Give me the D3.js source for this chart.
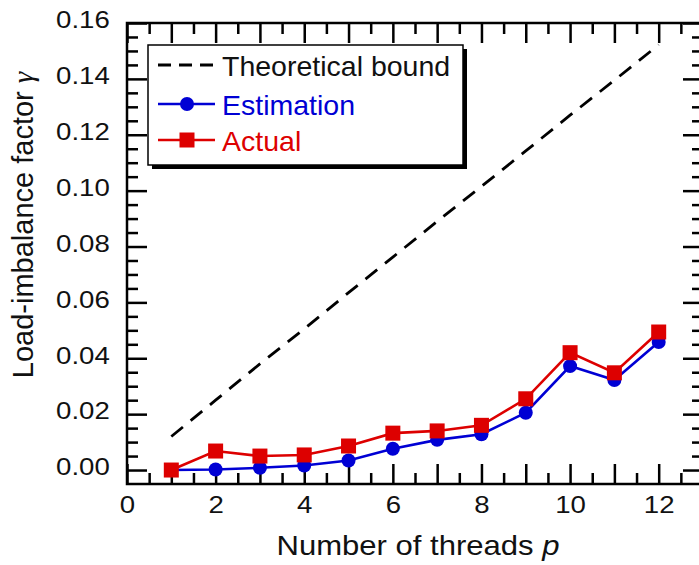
<!DOCTYPE html>
<html>
<head>
<meta charset="utf-8">
<script src="https://cdn.jsdelivr.net/npm/d3@7"></script>
<style>
  body { margin: 0; background: #fff; }
  text { font-family: "Liberation Sans", Arial, sans-serif; fill: #111; }
</style>
</head>
<body>
<svg id="chart" width="699" height="565"></svg>
<script>
// values
const threads = [1, 2, 3, 4, 5, 6, 7, 8, 9, 10, 11, 12]
const estimation = [0.0, 0.0002, 0.0008, 0.0016, 0.0034, 0.0076, 0.0108, 0.0128, 0.0205, 0.0372, 0.0322, 0.0458]
const actual = [0.0, 0.0068, 0.0050, 0.0054, 0.0086, 0.0132, 0.0140, 0.0160, 0.0255, 0.0420, 0.0348, 0.0494]
const bound = [0.0120, 0.0250, 0.0380, 0.0505, 0.0635, 0.0762, 0.0890, 0.1015, 0.1142, 0.1270, 0.1395, 0.1522]
const xMajor = d3.range(0, 14)
const xMinor = d3.range(0.5, 13, 1)
const yMajor = [0, 0.02, 0.04, 0.06, 0.08, 0.10, 0.12, 0.14, 0.16]
const yMinor = d3.range(1, 32).map(i => i * 0.005).filter(v => Math.round(v * 1000) % 20 !== 0)
const legendItems = ['Theoretical bound', 'Estimation', 'Actual']

const blue = '#0000d4', red = '#dd0000'
const stretch = 1.15

const plot = { left: 127, right: 703, top: 23, bottom: 484 }

var svg = d3.select('#chart')

var x = d3.scaleLinear().domain([0, 13]).range([plot.left, plot.right])
var y = d3.scaleLinear().domain([-0.005, 0.16]).range([plot.bottom, plot.top])

function styleAxis(g) {
  g.select('.domain').remove()
  g.selectAll('line').attr('stroke', '#000').attr('stroke-width', 2.5)
  g.selectAll('text').attr('fill', '#111')
}

// bottom axis
svg.append('g')
  .attr('transform', 'translate(0,' + plot.bottom + ')')
  .call(d3.axisBottom(x).tickValues(xMajor).tickSize(-20).tickPadding(12)
    .tickFormat(d => d % 2 === 0 ? d : ''))
  .call(styleAxis)
  .selectAll('text')
  .attr('font-size', 24)
  .attr('font-family', '"Liberation Sans", Arial, sans-serif')
  .attr('transform', 'scale(' + stretch + ',1)')
svg.append('g')
  .attr('transform', 'translate(0,' + plot.bottom + ')')
  .call(d3.axisBottom(x).tickValues(xMinor).tickSize(-11).tickFormat(''))
  .call(styleAxis)

// top axis
svg.append('g')
  .attr('transform', 'translate(0,' + plot.top + ')')
  .call(d3.axisTop(x).tickValues(xMajor).tickSize(-20).tickFormat(''))
  .call(styleAxis)
svg.append('g')
  .attr('transform', 'translate(0,' + plot.top + ')')
  .call(d3.axisTop(x).tickValues(xMinor).tickSize(-11).tickFormat(''))
  .call(styleAxis)

// left axis
svg.append('g')
  .attr('transform', 'translate(' + plot.left + ',0)')
  .call(d3.axisLeft(y).tickValues(yMajor).tickSize(-20).tickPadding(15)
    .tickFormat(d3.format('.2f')))
  .call(styleAxis)
  .selectAll('text')
  .attr('font-size', 24)
  .attr('font-family', '"Liberation Sans", Arial, sans-serif')
  .attr('dy', '0.2em')
  .attr('transform', 'scale(' + stretch + ',1)')
svg.append('g')
  .attr('transform', 'translate(' + plot.left + ',0)')
  .call(d3.axisLeft(y).tickValues(yMinor).tickSize(-11).tickFormat(''))
  .call(styleAxis)

// right axis
svg.append('g')
  .attr('transform', 'translate(' + plot.right + ',0)')
  .call(d3.axisRight(y).tickValues(yMajor).tickSize(-20).tickFormat(''))
  .call(styleAxis)
svg.append('g')
  .attr('transform', 'translate(' + plot.right + ',0)')
  .call(d3.axisRight(y).tickValues(yMinor).tickSize(-11).tickFormat(''))
  .call(styleAxis)

// frame
svg.append('rect')
  .attr('x', plot.left).attr('y', plot.top)
  .attr('width', plot.right - plot.left).attr('height', plot.bottom - plot.top)
  .attr('fill', 'none').attr('stroke', '#000').attr('stroke-width', 2.5)

// lines
var line = d3.line().x((d, i) => x(threads[i])).y(d => y(d))

svg.append('path')
  .datum(bound)
  .attr('d', line)
  .attr('fill', 'none').attr('stroke', '#000').attr('stroke-width', 2.8)
  .attr('stroke-dasharray', '15,10')

svg.append('path')
  .datum(estimation)
  .attr('d', line)
  .attr('fill', 'none').attr('stroke', blue).attr('stroke-width', 2.6)

svg.append('path')
  .datum(actual)
  .attr('d', line)
  .attr('fill', 'none').attr('stroke', red).attr('stroke-width', 2.6)

svg.selectAll('.est-dot')
  .data(estimation)
  .enter().append('circle')
  .attr('cx', (d, i) => x(threads[i]))
  .attr('cy', d => y(d))
  .attr('r', 7)
  .attr('fill', blue)

svg.selectAll('.act-dot')
  .data(actual)
  .enter().append('rect')
  .attr('x', (d, i) => x(threads[i]) - 7.5)
  .attr('y', d => y(d) - 7.5)
  .attr('width', 15).attr('height', 15)
  .attr('fill', red)

// legend
var lg = svg.append('g')
lg.append('rect')
  .attr('x', 152).attr('y', 49).attr('width', 315).attr('height', 120)
  .attr('fill', '#000')
lg.append('rect')
  .attr('x', 148).attr('y', 45).attr('width', 315).attr('height', 120)
  .attr('fill', '#fff').attr('stroke', '#000').attr('stroke-width', 1.5)

var rows = [65, 104, 140]
lg.append('line')
  .attr('x1', 158).attr('x2', 218).attr('y1', rows[0]).attr('y2', rows[0])
  .attr('stroke', '#000').attr('stroke-width', 2.8).attr('stroke-dasharray', '13,8')
lg.append('line')
  .attr('x1', 158).attr('x2', 215).attr('y1', rows[1]).attr('y2', rows[1])
  .attr('stroke', blue).attr('stroke-width', 2.6)
lg.append('circle')
  .attr('cx', 187).attr('cy', rows[1]).attr('r', 7).attr('fill', blue)
lg.append('line')
  .attr('x1', 158).attr('x2', 215).attr('y1', rows[2]).attr('y2', rows[2])
  .attr('stroke', red).attr('stroke-width', 2.6)
lg.append('rect')
  .attr('x', 179.5).attr('y', rows[2] - 7.5).attr('width', 15).attr('height', 15).attr('fill', red)

lg.selectAll('.lg-text')
  .data(legendItems)
  .enter().append('text')
  .attr('x', 222)
  .attr('y', (d, i) => rows[i] + 11)
  .attr('font-size', 28.5)
  .style('fill', (d, i) => ['#111', blue, red][i])
  .text(d => d)

// axis titles
var xt = svg.append('text')
  .attr('transform', 'translate(418,555) scale(' + stretch + ',1)')
  .attr('text-anchor', 'middle')
  .attr('font-size', 27)
xt.append('tspan').text('Number of threads ')
xt.append('tspan').attr('font-style', 'italic').text('p')

var yt = svg.append('text')
  .attr('transform', 'translate(33,225) rotate(-90)')
  .attr('text-anchor', 'middle')
  .attr('font-size', 29)
yt.append('tspan').text('Load-imbalance factor ')
yt.append('tspan').attr('font-style', 'italic').attr('font-family', '"Liberation Serif", serif').text('γ')
</script>
</body>
</html>
